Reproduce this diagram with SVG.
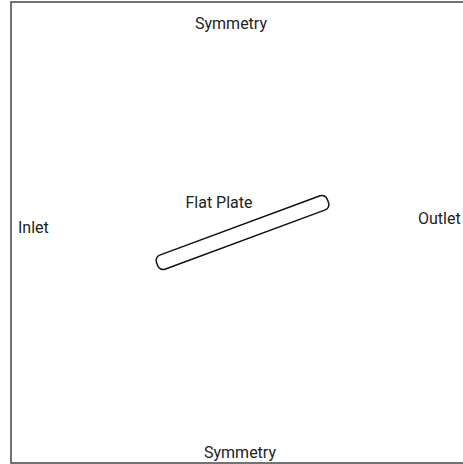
<svg xmlns="http://www.w3.org/2000/svg" width="463" height="464" viewBox="0 0 463 464">
  <style>
    .lbl { font-family: Roboto, "Liberation Sans", sans-serif; font-size: 16px; fill: #222; }
    .domain { fill: #fff; stroke: #444; stroke-width: 1.5; }
    .plate { fill: #fff; stroke: #111; stroke-width: 1.5; }
  </style>
  <rect width="463" height="464" fill="#fff"/>
  <!-- computational domain boundary -->
  <g id="domain">
    <rect class="domain" x="11" y="2" width="470" height="461"/>
  </g>
  <!-- inclined flat plate -->
  <g id="plate">
    <rect class="plate" x="-91" y="-7.5" width="182" height="15" rx="5.5" transform="translate(242.5,232.5) rotate(-20.3)"/>
  </g>
  <!-- boundary labels -->
  <g id="labels">
    <text class="lbl" x="231" y="29" text-anchor="middle">Symmetry</text>
    <text class="lbl" x="240" y="458" text-anchor="middle">Symmetry</text>
    <text class="lbl" x="18" y="233">Inlet</text>
    <text class="lbl" x="418" y="224">Outlet</text>
    <text class="lbl" x="219" y="208" text-anchor="middle">Flat Plate</text>
  </g>
  <g id="connectors"/>
</svg>
